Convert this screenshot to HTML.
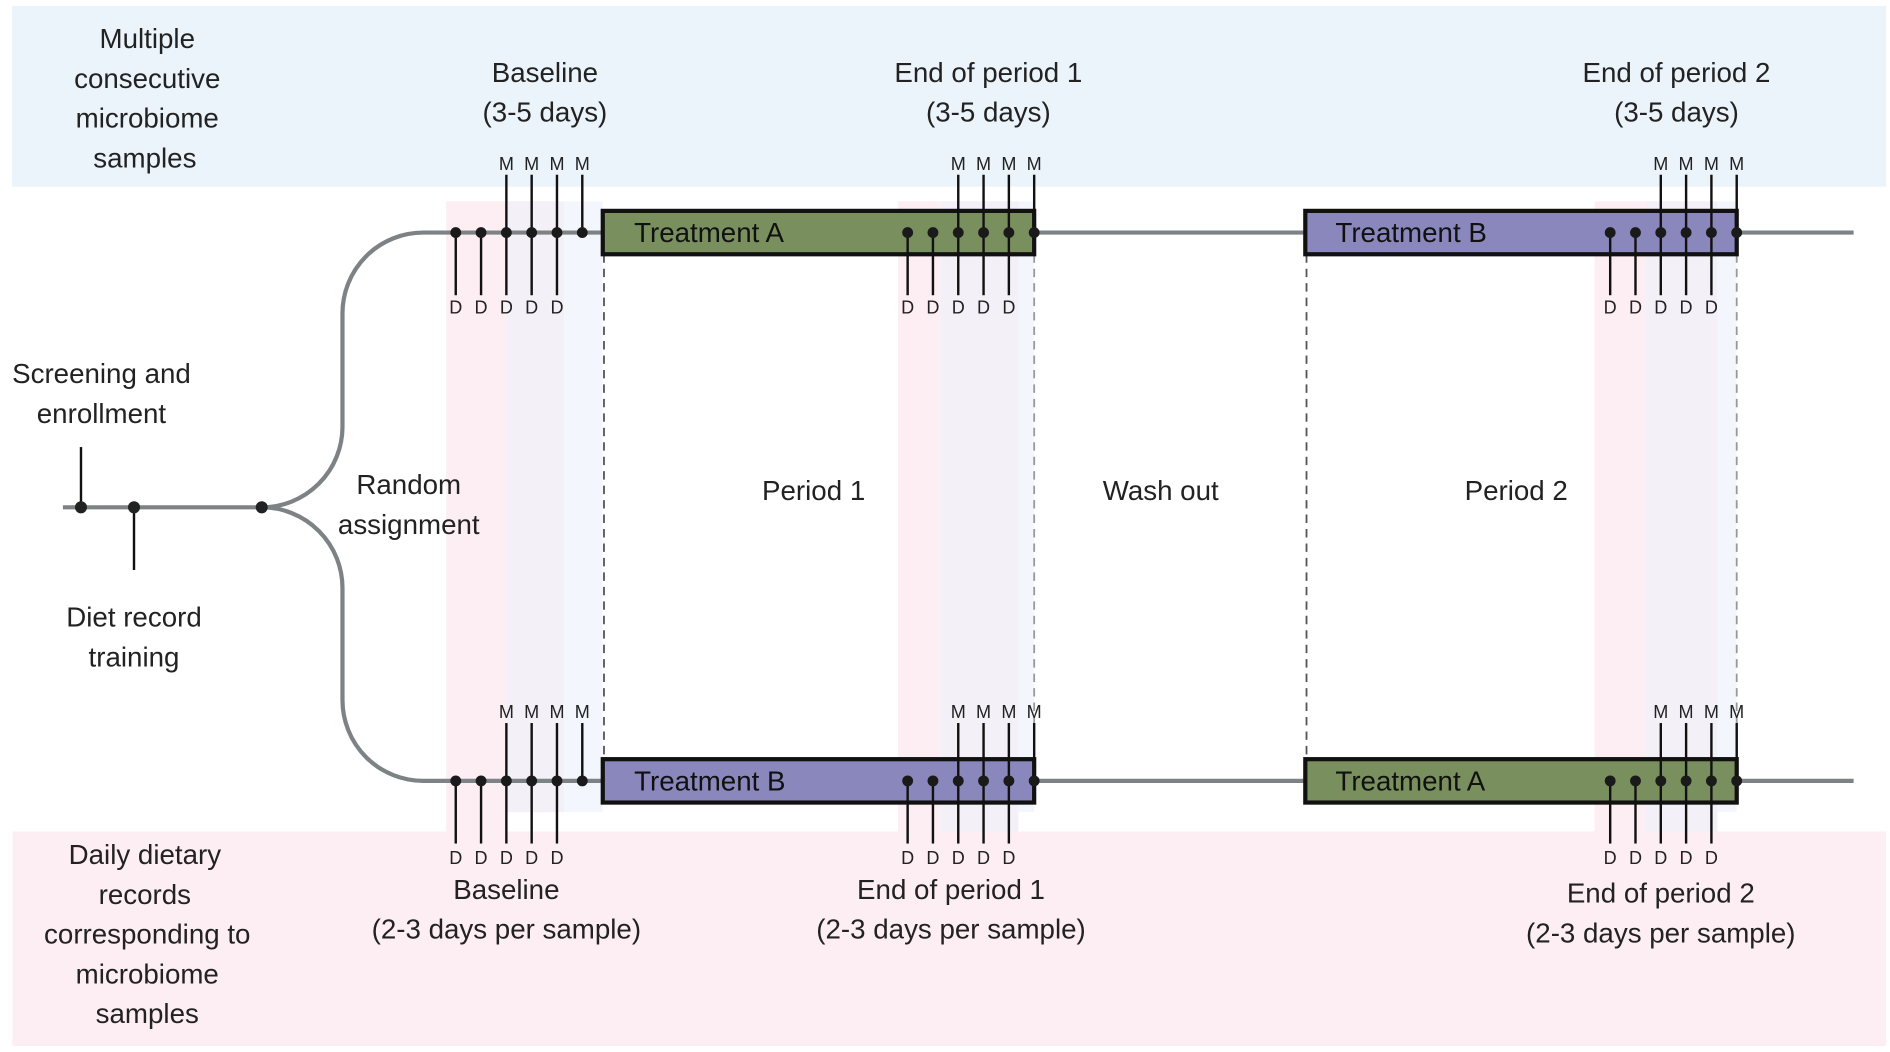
<!DOCTYPE html>
<html><head><meta charset="utf-8"><style>
html,body{margin:0;padding:0;background:#fff}
svg{display:block}
text{font-family:"Liberation Sans",sans-serif;fill:#222}
.t{font-size:23px;text-anchor:middle}
.s{font-size:15px;text-anchor:middle}
.bx{font-size:23px;fill:#111}
</style></head><body>
<svg width="1890" height="1052" viewBox="0 0 1568 873" xmlns="http://www.w3.org/2000/svg">
<rect x="10" y="5" width="1555" height="150" fill="#ebf3fb"/>
<rect x="10" y="690" width="1555" height="178" fill="#fdeef3"/>
<!-- strips -->
<g>
<rect x="370" y="167" width="50" height="523" fill="#fdeef3"/>
<rect x="420" y="167" width="48" height="507" fill="#f3f0f8"/>
<rect x="468" y="167" width="32" height="507" fill="#f3f7fd"/>
<rect x="745" y="167" width="35" height="523" fill="#fdeef3"/>
<rect x="780" y="167" width="65" height="523" fill="#f3f0f8"/>
<rect x="845" y="167" width="13" height="507" fill="#f3f7fd"/>
<rect x="1323" y="167" width="42" height="523" fill="#fdeef3"/>
<rect x="1365" y="167" width="60" height="523" fill="#f3f0f8"/>
<rect x="1425" y="167" width="16" height="507" fill="#f3f7fd"/>
</g>
<!-- dashed -->
<g stroke="#555" stroke-width="1.5" stroke-dasharray="7,5">
<line x1="501" y1="211" x2="501" y2="630"/>
<line x1="858" y1="211" x2="858" y2="630" stroke="#999"/>
<line x1="1084" y1="211" x2="1084" y2="630"/>
<line x1="1441" y1="211" x2="1441" y2="630" stroke="#999"/>
</g>
<!-- main lines -->
<g stroke="#7d8285" stroke-width="3.5" fill="none">
<line x1="52" y1="421" x2="217" y2="421"/>
<path d="M217,421 A67,67 0 0 0 284,354 L284,260 A67,67 0 0 1 351,193 L500,193"/>
<path d="M217,421 A67,67 0 0 1 284,488 L284,581 A67,67 0 0 0 351,648 L500,648"/>
<line x1="858" y1="193" x2="1083" y2="193"/>
<line x1="1441" y1="193" x2="1538" y2="193"/>
<line x1="858" y1="648" x2="1083" y2="648"/>
<line x1="1441" y1="648" x2="1538" y2="648"/>
</g>
<g stroke="#111" stroke-width="2">
<line x1="67" y1="371" x2="67" y2="421"/>
<line x1="111" y1="421" x2="111" y2="473"/>
</g>
<g fill="#222"><circle cx="67" cy="421" r="5"/><circle cx="111" cy="421" r="5"/><circle cx="217" cy="421" r="5"/></g>
<!-- boxes -->
<rect x="500" y="175" width="358" height="36" fill="#7a8f5e" stroke="#111" stroke-width="3.5"/>
<rect x="1083" y="175" width="358" height="36" fill="#8987bb" stroke="#111" stroke-width="3.5"/>
<rect x="500" y="630" width="358" height="36" fill="#8987bb" stroke="#111" stroke-width="3.5"/>
<rect x="1083" y="630" width="358" height="36" fill="#7a8f5e" stroke="#111" stroke-width="3.5"/>
<text class="bx" x="526" y="201">Treatment A</text>
<text class="bx" x="1108" y="201">Treatment B</text>
<text class="bx" x="526" y="656">Treatment B</text>
<text class="bx" x="1108" y="656">Treatment A</text>
<!-- stems: top row -->
<g stroke="#111" stroke-width="2">
<!-- top baseline -->
<line x1="420" y1="145" x2="420" y2="193"/><line x1="441" y1="145" x2="441" y2="193"/><line x1="462" y1="145" x2="462" y2="193"/><line x1="483" y1="145" x2="483" y2="193"/>
<line x1="378" y1="193" x2="378" y2="245"/><line x1="399" y1="193" x2="399" y2="245"/><line x1="420" y1="193" x2="420" y2="245"/><line x1="441" y1="193" x2="441" y2="245"/><line x1="462" y1="193" x2="462" y2="245"/>
<line x1="795" y1="145" x2="795" y2="193"/><line x1="816" y1="145" x2="816" y2="193"/><line x1="837" y1="145" x2="837" y2="193"/><line x1="858" y1="145" x2="858" y2="193"/>
<line x1="753" y1="193" x2="753" y2="245"/><line x1="774" y1="193" x2="774" y2="245"/><line x1="795" y1="193" x2="795" y2="245"/><line x1="816" y1="193" x2="816" y2="245"/><line x1="837" y1="193" x2="837" y2="245"/>
<line x1="1378" y1="145" x2="1378" y2="193"/><line x1="1399" y1="145" x2="1399" y2="193"/><line x1="1420" y1="145" x2="1420" y2="193"/><line x1="1441" y1="145" x2="1441" y2="193"/>
<line x1="1336" y1="193" x2="1336" y2="245"/><line x1="1357" y1="193" x2="1357" y2="245"/><line x1="1378" y1="193" x2="1378" y2="245"/><line x1="1399" y1="193" x2="1399" y2="245"/><line x1="1420" y1="193" x2="1420" y2="245"/>
<!-- bottom row -->
<line x1="420" y1="600" x2="420" y2="648"/><line x1="441" y1="600" x2="441" y2="648"/><line x1="462" y1="600" x2="462" y2="648"/><line x1="483" y1="600" x2="483" y2="648"/>
<line x1="378" y1="648" x2="378" y2="700"/><line x1="399" y1="648" x2="399" y2="700"/><line x1="420" y1="648" x2="420" y2="700"/><line x1="441" y1="648" x2="441" y2="700"/><line x1="462" y1="648" x2="462" y2="700"/>
<line x1="795" y1="600" x2="795" y2="648"/><line x1="816" y1="600" x2="816" y2="648"/><line x1="837" y1="600" x2="837" y2="648"/><line x1="858" y1="600" x2="858" y2="648"/>
<line x1="753" y1="648" x2="753" y2="700"/><line x1="774" y1="648" x2="774" y2="700"/><line x1="795" y1="648" x2="795" y2="700"/><line x1="816" y1="648" x2="816" y2="700"/><line x1="837" y1="648" x2="837" y2="700"/>
<line x1="1378" y1="600" x2="1378" y2="648"/><line x1="1399" y1="600" x2="1399" y2="648"/><line x1="1420" y1="600" x2="1420" y2="648"/><line x1="1441" y1="600" x2="1441" y2="648"/>
<line x1="1336" y1="648" x2="1336" y2="700"/><line x1="1357" y1="648" x2="1357" y2="700"/><line x1="1378" y1="648" x2="1378" y2="700"/><line x1="1399" y1="648" x2="1399" y2="700"/><line x1="1420" y1="648" x2="1420" y2="700"/>
</g>
<!-- dots -->
<g fill="#1a1a1a">
<circle cx="378" cy="193" r="4.5"/><circle cx="399" cy="193" r="4.5"/><circle cx="420" cy="193" r="4.5"/><circle cx="441" cy="193" r="4.5"/><circle cx="462" cy="193" r="4.5"/><circle cx="483" cy="193" r="4.5"/>
<circle cx="753" cy="193" r="4.5"/><circle cx="774" cy="193" r="4.5"/><circle cx="795" cy="193" r="4.5"/><circle cx="816" cy="193" r="4.5"/><circle cx="837" cy="193" r="4.5"/><circle cx="858" cy="193" r="4.5"/>
<circle cx="1336" cy="193" r="4.5"/><circle cx="1357" cy="193" r="4.5"/><circle cx="1378" cy="193" r="4.5"/><circle cx="1399" cy="193" r="4.5"/><circle cx="1420" cy="193" r="4.5"/><circle cx="1441" cy="193" r="4.5"/>
<circle cx="378" cy="648" r="4.5"/><circle cx="399" cy="648" r="4.5"/><circle cx="420" cy="648" r="4.5"/><circle cx="441" cy="648" r="4.5"/><circle cx="462" cy="648" r="4.5"/><circle cx="483" cy="648" r="4.5"/>
<circle cx="753" cy="648" r="4.5"/><circle cx="774" cy="648" r="4.5"/><circle cx="795" cy="648" r="4.5"/><circle cx="816" cy="648" r="4.5"/><circle cx="837" cy="648" r="4.5"/><circle cx="858" cy="648" r="4.5"/>
<circle cx="1336" cy="648" r="4.5"/><circle cx="1357" cy="648" r="4.5"/><circle cx="1378" cy="648" r="4.5"/><circle cx="1399" cy="648" r="4.5"/><circle cx="1420" cy="648" r="4.5"/><circle cx="1441" cy="648" r="4.5"/>
</g>
<!-- M / D labels -->
<g class="s">
<text class="s" x="420" y="141">M</text><text class="s" x="441" y="141">M</text><text class="s" x="462" y="141">M</text><text class="s" x="483" y="141">M</text>
<text class="s" x="795" y="141">M</text><text class="s" x="816" y="141">M</text><text class="s" x="837" y="141">M</text><text class="s" x="858" y="141">M</text>
<text class="s" x="1378" y="141">M</text><text class="s" x="1399" y="141">M</text><text class="s" x="1420" y="141">M</text><text class="s" x="1441" y="141">M</text>
<text class="s" x="420" y="596">M</text><text class="s" x="441" y="596">M</text><text class="s" x="462" y="596">M</text><text class="s" x="483" y="596">M</text>
<text class="s" x="795" y="596">M</text><text class="s" x="816" y="596">M</text><text class="s" x="837" y="596">M</text><text class="s" x="858" y="596">M</text>
<text class="s" x="1378" y="596">M</text><text class="s" x="1399" y="596">M</text><text class="s" x="1420" y="596">M</text><text class="s" x="1441" y="596">M</text>
<text class="s" x="378" y="260">D</text><text class="s" x="399" y="260">D</text><text class="s" x="420" y="260">D</text><text class="s" x="441" y="260">D</text><text class="s" x="462" y="260">D</text>
<text class="s" x="753" y="260">D</text><text class="s" x="774" y="260">D</text><text class="s" x="795" y="260">D</text><text class="s" x="816" y="260">D</text><text class="s" x="837" y="260">D</text>
<text class="s" x="1336" y="260">D</text><text class="s" x="1357" y="260">D</text><text class="s" x="1378" y="260">D</text><text class="s" x="1399" y="260">D</text><text class="s" x="1420" y="260">D</text>
<text class="s" x="378" y="717">D</text><text class="s" x="399" y="717">D</text><text class="s" x="420" y="717">D</text><text class="s" x="441" y="717">D</text><text class="s" x="462" y="717">D</text>
<text class="s" x="753" y="717">D</text><text class="s" x="774" y="717">D</text><text class="s" x="795" y="717">D</text><text class="s" x="816" y="717">D</text><text class="s" x="837" y="717">D</text>
<text class="s" x="1336" y="717">D</text><text class="s" x="1357" y="717">D</text><text class="s" x="1378" y="717">D</text><text class="s" x="1399" y="717">D</text><text class="s" x="1420" y="717">D</text>
</g>
<!-- big labels -->
<text class="t" x="122" y="40">Multiple</text>
<text class="t" x="122" y="73">consecutive</text>
<text class="t" x="122" y="106">microbiome</text>
<text class="t" x="120" y="139">samples</text>
<text class="t" x="452" y="68">Baseline</text>
<text class="t" x="452" y="101">(3-5 days)</text>
<text class="t" x="820" y="68">End of period 1</text>
<text class="t" x="820" y="101">(3-5 days)</text>
<text class="t" x="1391" y="68">End of period 2</text>
<text class="t" x="1391" y="101">(3-5 days)</text>
<text class="t" x="84" y="318">Screening and</text>
<text class="t" x="84" y="351">enrollment</text>
<text class="t" x="111" y="520">Diet record</text>
<text class="t" x="111" y="553">training</text>
<text class="t" x="339" y="410">Random</text>
<text class="t" x="339" y="443">assignment</text>
<text class="t" x="675" y="415">Period 1</text>
<text class="t" x="963" y="415">Wash out</text>
<text class="t" x="1258" y="415">Period 2</text>
<text class="t" x="120" y="717">Daily dietary</text>
<text class="t" x="120" y="750">records</text>
<text class="t" x="122" y="783">corresponding to</text>
<text class="t" x="122" y="816">microbiome</text>
<text class="t" x="122" y="849">samples</text>
<text class="t" x="420" y="746">Baseline</text>
<text class="t" x="420" y="779">(2-3 days per sample)</text>
<text class="t" x="789" y="746">End of period 1</text>
<text class="t" x="789" y="779">(2-3 days per sample)</text>
<text class="t" x="1378" y="749">End of period 2</text>
<text class="t" x="1378" y="782">(2-3 days per sample)</text>
</svg>
</body></html>
